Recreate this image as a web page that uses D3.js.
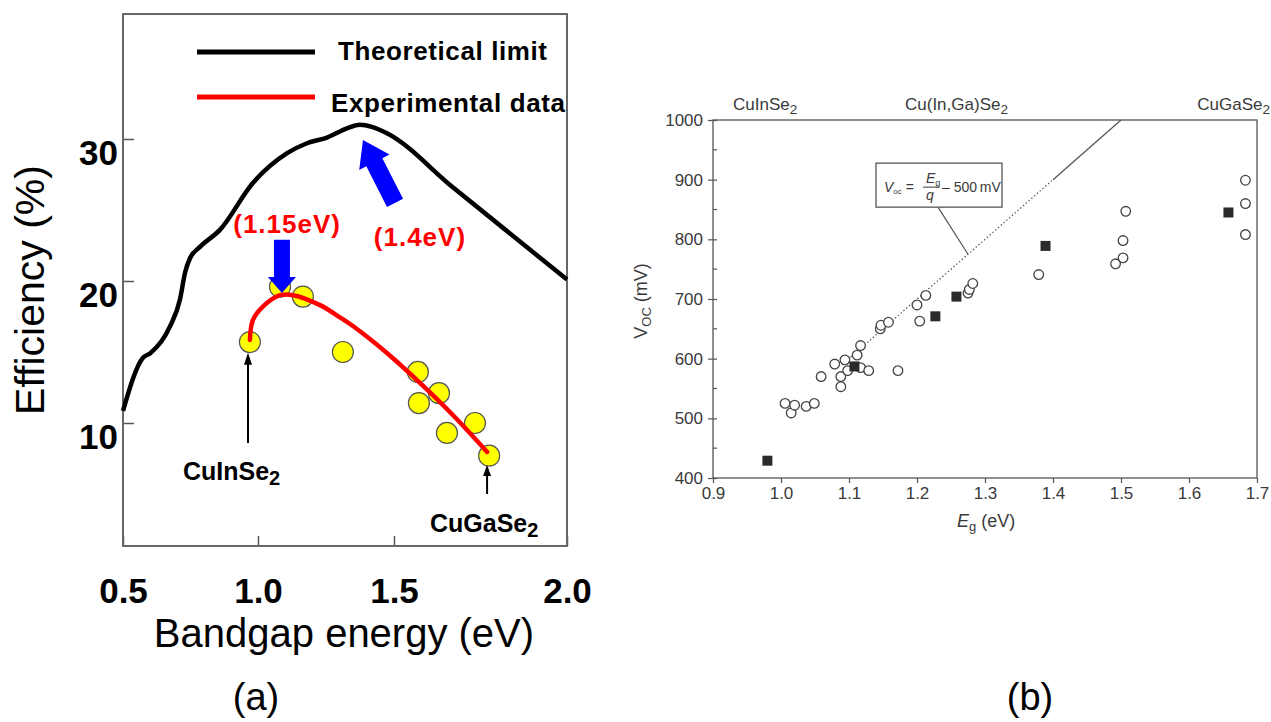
<!DOCTYPE html>
<html>
<head>
<meta charset="utf-8">
<script src="https://cdn.jsdelivr.net/npm/d3@7"></script>
<style>
  body { margin: 0; background: #fff; }
  svg { display: block; font-family: "Liberation Sans", Arial, sans-serif; }
</style>
</head>
<body>
<div id="chart"></div>
<script>
// ---- panel (a) data ----
var theoEg  = [0.50, 0.574, 0.60, 0.674, 0.711, 0.730, 0.748, 0.785, 0.859, 0.981, 1.107, 1.18, 1.254, 1.327, 1.375, 1.419, 1.474, 1.67, 2.0];
var theoEff = [10.85, 14.6, 14.9, 16.8, 18.7, 20.6, 21.6, 22.4, 23.6, 26.9, 29.0, 29.7, 30.1, 30.75, 31.0, 30.85, 30.4, 26.6, 20.1];
var expEg   = [0.97, 0.981, 1.018, 1.081, 1.129, 1.228, 1.30, 1.349, 1.474, 1.575, 1.67, 1.769];
var expEff  = [15.85, 17.25, 18.2, 19.0, 19.0, 18.3, 17.46, 16.83, 14.93, 12.82, 10.56, 7.96];
var dotEg   = [0.97, 1.081, 1.165, 1.312, 1.569, 1.572, 1.63, 1.653, 1.734, 1.775];
var dotEff  = [15.7, 19.6, 18.9, 15.0, 13.6, 11.4, 12.1, 9.3, 10.0, 7.7];
var aTicksX = [0.5, 1.0, 1.5, 2.0];
var aTicksY = [10, 20, 30];

// ---- panel (b) data ----
var circEg  = [1.006, 1.015, 1.020, 1.037, 1.049, 1.059, 1.079, 1.088, 1.088, 1.094, 1.098, 1.112, 1.117, 1.117, 1.129, 1.146, 1.147, 1.158, 1.172, 1.200, 1.204, 1.213, 1.275, 1.277, 1.282, 1.379, 1.492, 1.503, 1.503, 1.507, 1.683, 1.683, 1.683];
var circVoc = [525, 509, 522, 520, 525, 570, 591, 570, 553, 598, 580, 606, 622, 585, 580, 650, 656, 661, 580, 690, 663, 706, 710, 716, 726, 741, 759, 769, 798, 847, 808, 860, 899];
var sqEg    = [0.98, 1.108, 1.227, 1.258, 1.389, 1.658];
var sqVoc   = [429, 587, 671, 704, 789, 845];
var limitEg  = [1.09, 1.40, 1.50];
var limitVoc = [590, 900, 1000];
var bTicksX = [0.9, 1.0, 1.1, 1.2, 1.3, 1.4, 1.5, 1.6, 1.7];
var bTicksY = [400, 500, 600, 700, 800, 900, 1000];
var bMinorY = [450, 550, 650, 750, 850, 950];

var W = 1271, H = 722;
var svg = d3.select("#chart").append("svg").attr("width", W).attr("height", H);

// ================= panel (a) =================
var xa = d3.scaleLinear().domain([0.5, 1.0, 1.5, 2.0]).range([123, 258, 394, 567]);
var ya = d3.scaleLinear().domain([10, 30]).range([423, 139]);
var aTop = ya(38.8), aBot = ya(1.34);

var ga = svg.append("g");

// x axis (ticks point inward)
var axA = ga.append("g")
  .attr("transform", "translate(0," + aBot + ")")
  .call(d3.axisBottom(xa).tickValues(aTicksX).tickFormat(d3.format(".1f"))
    .tickSize(-10).tickSizeOuter(0).tickPadding(32));
axA.select(".domain").remove();
axA.selectAll("line").attr("stroke", "#555").attr("stroke-width", 1.5);
axA.selectAll("text").attr("font-size", 35).attr("font-weight", "bold").attr("fill", "#000")
  .attr("font-family", "Liberation Sans, Arial, sans-serif");

// y axis
var ayA = ga.append("g")
  .attr("transform", "translate(" + xa(0.5) + ",0)")
  .call(d3.axisLeft(ya).tickValues(aTicksY).tickSize(-11).tickSizeOuter(0).tickPadding(5));
ayA.select(".domain").remove();
ayA.selectAll("line").attr("stroke", "#555").attr("stroke-width", 1.5);
ayA.selectAll("text").attr("font-size", 35).attr("font-weight", "bold").attr("fill", "#000")
  .attr("dy", "0.74em").attr("font-family", "Liberation Sans, Arial, sans-serif");

// frame
ga.append("rect")
  .attr("x", xa(0.5)).attr("y", aTop)
  .attr("width", xa(2.0) - xa(0.5)).attr("height", aBot - aTop)
  .attr("fill", "none").attr("stroke", "#666").attr("stroke-width", 2);

// theoretical limit
var theo = theoEg.map(function(d, i) { return [d, theoEff[i]]; });
ga.append("path").datum(theo)
  .attr("fill", "none").attr("stroke", "#000").attr("stroke-width", 4.5)
  .attr("stroke-linejoin", "round")
  .attr("d", d3.line().x(function(d) { return xa(d[0]); }).y(function(d) { return ya(d[1]); })
    .curve(d3.curveMonotoneX));

// experimental dots
ga.selectAll(".dot").data(dotEg).enter().append("circle")
  .attr("class", "dot")
  .attr("cx", function(d) { return xa(d); })
  .attr("cy", function(d, i) { return ya(dotEff[i]); })
  .attr("r", 10.5)
  .attr("fill", "#ffff00").attr("stroke", "#555").attr("stroke-width", 1.2);

// experimental fit
var exp = expEg.map(function(d, i) { return [d, expEff[i]]; });
ga.append("path").datum(exp)
  .attr("fill", "none").attr("stroke", "#ff0000").attr("stroke-width", 4.5)
  .attr("stroke-linecap", "round")
  .attr("d", d3.line().x(function(d) { return xa(d[0]); }).y(function(d) { return ya(d[1]); })
    .curve(d3.curveCatmullRom.alpha(0.5)));

// arrow polygon helper (pixel tail/tip)
function arrowPts(t0, t1, sw, hw, hl) {
  var dx = t1[0] - t0[0], dy = t1[1] - t0[1];
  var len = Math.sqrt(dx * dx + dy * dy);
  var ux = dx / len, uy = dy / len, px = -uy, py = ux;
  var bx = t1[0] - ux * hl, by = t1[1] - uy * hl;
  return [
    [t0[0] + px * sw, t0[1] + py * sw],
    [bx + px * sw, by + py * sw],
    [bx + px * hw, by + py * hw],
    t1,
    [bx - px * hw, by - py * hw],
    [bx - px * sw, by - py * sw],
    [t0[0] - px * sw, t0[1] - py * sw]
  ];
}
function drawArrow(g, tail, tip, sw, hw, hl, color) {
  var t0 = [xa(tail[0]), ya(tail[1])], t1 = [xa(tip[0]), ya(tip[1])];
  g.append("path")
    .attr("d", d3.line()(arrowPts(t0, t1, sw, hw, hl)) + "Z")
    .attr("fill", color);
}

// blue arrows
drawArrow(ga, [1.088, 22.9], [1.088, 19.15], 8, 14, 16, "#0000ff");
drawArrow(ga, [1.503, 25.5], [1.386, 29.93], 9, 17, 25, "#0000ff");

// small black arrows
drawArrow(ga, [0.963, 8.6], [0.963, 14.95], 1, 4, 12, "#000");
drawArrow(ga, [1.769, 5.0], [1.769, 7.05], 1, 4, 11, "#000");

// red labels
ga.append("text").attr("x", xa(1.107)).attr("y", ya(23.4))
  .attr("text-anchor", "middle").attr("font-size", 26).attr("font-weight", "bold")
  .attr("letter-spacing", 1).attr("fill", "#ff0000").text("(1.15eV)");
ga.append("text").attr("x", xa(1.575)).attr("y", ya(22.5))
  .attr("text-anchor", "middle").attr("font-size", 26).attr("font-weight", "bold")
  .attr("letter-spacing", 1).attr("fill", "#ff0000").text("(1.4eV)");

// compound labels
function subLabel(g, x, y, base, sub, size, weight, color, anchor) {
  var t = g.append("text").attr("x", x).attr("y", y)
    .attr("font-size", size).attr("font-weight", weight).attr("fill", color)
    .attr("text-anchor", anchor || "start");
  t.append("tspan").text(base);
  t.append("tspan").attr("font-size", size * 0.8).attr("dy", size * 0.22).text(sub);
  return t;
}
subLabel(ga, xa(0.722), ya(6.0), "CuInSe", "2", 25, "bold", "#000");
subLabel(ga, xa(1.604), ya(2.35), "CuGaSe", "2", 25, "bold", "#000");

// legend
ga.append("line").attr("x1", 197).attr("x2", 315).attr("y1", 52).attr("y2", 52)
  .attr("stroke", "#000").attr("stroke-width", 5);
ga.append("text").attr("x", 338).attr("y", 60).attr("font-size", 26).attr("font-weight", "bold")
  .attr("textLength", 209).text("Theoretical limit");
ga.append("line").attr("x1", 197).attr("x2", 315).attr("y1", 97).attr("y2", 97)
  .attr("stroke", "#ff0000").attr("stroke-width", 5);
ga.append("text").attr("x", 331).attr("y", 112).attr("font-size", 26).attr("font-weight", "bold")
  .attr("textLength", 234).text("Experimental data");

// axis titles
ga.append("text").attr("x", 344).attr("y", 647).attr("text-anchor", "middle")
  .attr("font-size", 40).text("Bandgap energy (eV)");
ga.append("text").attr("transform", "translate(44,290) rotate(-90)")
  .attr("text-anchor", "middle").attr("font-size", 41).text("Efficiency (%)");
ga.append("text").attr("x", 256).attr("y", 710).attr("text-anchor", "middle")
  .attr("font-size", 38).text("(a)");

// ================= panel (b) =================
var xb = d3.scaleLinear().domain([0.9, 1.7]).range([713, 1257]);
var yb = d3.scaleLinear().domain([400, 1000]).range([478, 120]);
var gb = svg.append("g");
var bc = "#555", tc = "#3a3a3a";

gb.append("rect")
  .attr("x", xb(0.9)).attr("y", yb(1000))
  .attr("width", xb(1.7) - xb(0.9)).attr("height", yb(400) - yb(1000))
  .attr("fill", "none").attr("stroke", bc).attr("stroke-width", 1.3);

var axB = gb.append("g").attr("transform", "translate(0," + yb(400) + ")")
  .call(d3.axisBottom(xb).tickValues(bTicksX).tickFormat(d3.format(".1f"))
    .tickSize(5).tickSizeOuter(0).tickPadding(4));
axB.select(".domain").remove();
axB.selectAll("line").attr("stroke", bc).attr("stroke-width", 1.2);
axB.selectAll("text").attr("font-size", 17).attr("fill", tc)
  .attr("font-family", "Liberation Sans, Arial, sans-serif");

var ayB = gb.append("g").attr("transform", "translate(" + xb(0.9) + ",0)")
  .call(d3.axisLeft(yb).tickValues(bTicksY).tickFormat(d3.format("d"))
    .tickSize(5).tickSizeOuter(0).tickPadding(5));
ayB.select(".domain").remove();
ayB.selectAll("line").attr("stroke", bc).attr("stroke-width", 1.2).attr("x2", -5).attr("x1", 4);
ayB.selectAll("text").attr("font-size", 17).attr("fill", tc)
  .attr("font-family", "Liberation Sans, Arial, sans-serif");

gb.selectAll(".minor").data(bMinorY).enter().append("line")
  .attr("class", "minor")
  .attr("x1", xb(0.9)).attr("x2", xb(0.9) + 4)
  .attr("y1", function(d) { return yb(d); }).attr("y2", function(d) { return yb(d); })
  .attr("stroke", bc).attr("stroke-width", 1.2);

// Voc limit line: dotted then solid
var lim = limitEg.map(function(d, i) { return [xb(d), yb(limitVoc[i])]; });
gb.append("path").attr("d", d3.line()([lim[0], lim[1]]))
  .attr("stroke", "#555").attr("stroke-width", 1.2).attr("stroke-dasharray", "1.5,2.2").attr("fill", "none");
gb.append("path").attr("d", d3.line()([lim[1], lim[2]]))
  .attr("stroke", "#555").attr("stroke-width", 1.3).attr("fill", "none");

// formula box + leader
var bx0 = xb(1.1397), by0 = yb(927.7);
gb.append("line").attr("x1", bx0 + 62).attr("y1", by0 + 44)
  .attr("x2", xb(1.275)).attr("y2", yb(775))
  .attr("stroke", "#555").attr("stroke-width", 1.2);
gb.append("rect").attr("x", bx0).attr("y", by0).attr("width", 126).attr("height", 44)
  .attr("fill", "#fff").attr("stroke", "#555").attr("stroke-width", 1.3);
var fs = 14;
var f1 = gb.append("text").attr("x", bx0 + 8).attr("y", by0 + 29).attr("font-size", fs).attr("fill", tc);
f1.append("tspan").attr("font-style", "italic").text("V");
f1.append("tspan").attr("font-size", 8).attr("dy", 2).text("oc");
f1.append("tspan").attr("dy", -2).text(" =");
var f2 = gb.append("text").attr("x", bx0 + 50).attr("y", by0 + 20).attr("font-size", fs).attr("fill", tc);
f2.append("tspan").attr("font-style", "italic").text("E");
f2.append("tspan").attr("font-size", 9).attr("dy", 3).text("g");
gb.append("line").attr("x1", bx0 + 47).attr("x2", bx0 + 63).attr("y1", by0 + 24).attr("y2", by0 + 24)
  .attr("stroke", tc).attr("stroke-width", 1);
gb.append("text").attr("x", bx0 + 50).attr("y", by0 + 37).attr("font-size", fs).attr("fill", tc)
  .attr("font-style", "italic").text("q");
gb.append("text").attr("x", bx0 + 66).attr("y", by0 + 29).attr("font-size", fs).attr("fill", tc)
  .text("\u2013 500\u2009mV");

// data points
gb.selectAll(".circ").data(circEg).enter().append("circle")
  .attr("class", "circ")
  .attr("cx", function(d) { return xb(d); })
  .attr("cy", function(d, i) { return yb(circVoc[i]); })
  .attr("r", 4.8)
  .attr("fill", "#fff").attr("stroke", "#444").attr("stroke-width", 1.3);
gb.selectAll(".sq").data(sqEg).enter().append("rect")
  .attr("class", "sq")
  .attr("x", function(d) { return xb(d) - 5; })
  .attr("y", function(d, i) { return yb(sqVoc[i]) - 5; })
  .attr("width", 10).attr("height", 10)
  .attr("fill", "#2a2a2a");

// titles
subLabel(gb, 733, 110, "CuInSe", "2", 17, "normal", tc);
subLabel(gb, 905, 110, "Cu(In,Ga)Se", "2", 17, "normal", tc);
subLabel(gb, 1270, 110, "CuGaSe", "2", 17, "normal", tc, "end");

var yl = gb.append("text").attr("transform", "translate(647,301) rotate(-90)")
  .attr("text-anchor", "middle").attr("font-size", 18).attr("fill", tc);
yl.append("tspan").text("V");
yl.append("tspan").attr("font-size", 13).attr("dy", 4).text("OC");
yl.append("tspan").attr("dy", -4).text(" (mV)");

var xl = gb.append("text").attr("x", 957).attr("y", 527).attr("font-size", 18).attr("fill", tc);
xl.append("tspan").attr("font-style", "italic").text("E");
xl.append("tspan").attr("font-size", 13).attr("dy", 4).text("g");
xl.append("tspan").attr("dy", -4).text(" (eV)");

gb.append("text").attr("x", 1030).attr("y", 710).attr("text-anchor", "middle")
  .attr("font-size", 38).text("(b)");
</script>
</body>
</html>
